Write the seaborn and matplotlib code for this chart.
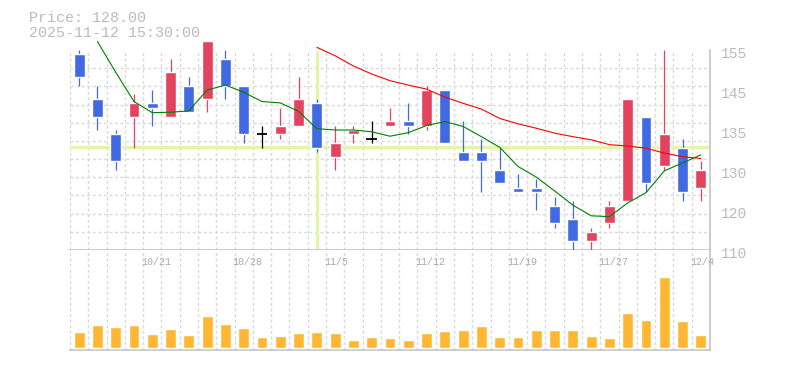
import numpy as np
import seaborn as sns
import matplotlib
matplotlib.use('Agg')
import matplotlib.pyplot as plt
import matplotlib.transforms as mtrans

# daily candles, 2025-10-15 .. 2025-12-04
dates = ['10/15', '10/16', '10/17', '10/20', '10/21', '10/22', '10/23', '10/24', '10/27', '10/28',
         '10/29', '10/30', '10/31', '11/4', '11/5', '11/6', '11/7', '11/10', '11/11', '11/12',
         '11/13', '11/14', '11/17', '11/18', '11/19', '11/20', '11/21', '11/25', '11/26', '11/27',
         '11/28', '12/1', '12/2', '12/3', '12/4']
opens = [154, 144, 136, 140, 143, 140, 147, 144, 153, 147, 136, 136, 138, 143, 131, 136, 135, 138,
         139, 138, 146, 132, 132, 128, 124, 124, 120, 117, 112, 116, 121, 140, 129, 133, 124]
highs = [155, 147, 137, 145, 146, 153, 149, 157, 155, 147, 138, 142, 149, 144, 138, 138, 139, 142,
         143, 147, 146, 139, 135, 133, 127, 126, 122, 121, 115, 121, 144, 140, 155, 135, 130]
lows = [147, 137, 128, 133, 138, 140, 141, 141, 144, 134, 133, 135, 138, 132, 128, 134, 134, 138,
        136, 137, 134, 130, 123, 125, 123, 119, 115, 110, 110, 115, 121, 123, 128, 121, 121]
closes = [149, 140, 130, 143, 142, 150, 141, 157, 147, 136, 136, 138, 144, 133, 134, 137, 135, 139,
          138, 146, 134, 130, 130, 125, 123, 123, 116, 112, 114, 120, 144, 125, 136, 123, 128]
ma_short = [np.nan, 156.9, 150.0, 143.4, 140.9, 141.0, 141.3, 146.0, 147.1, 145.5, 143.4, 143.1,
            141.2, 137.3, 137.0, 137.0, 136.6, 135.6, 136.4, 138.0, 138.9, 137.8, 135.5, 133.1,
            128.8, 126.4, 123.3, 120.1, 117.7, 117.5, 120.6, 122.9, 127.8, 129.6, 131.4]
ma_long = [np.nan] * 13 + [155.6, 153.7, 151.4, 149.6, 148.1, 147.1, 146.2, 144.4, 143.0, 141.7,
                           139.6, 138.4, 137.4, 136.3, 135.5, 134.8, 133.7, 133.4, 132.9, 131.8,
                           131.0, 130.6]
volume = [48, 68, 62, 68, 41, 56, 38, 95, 71, 59, 32, 35, 44, 47, 44, 23, 32, 29, 23, 44, 50, 53,
          65, 32, 32, 53, 53, 53, 35, 29, 104, 83, 212, 80, 38]  # thousand shares

price_tick_labels = ['110', '120', '130', '135', '145', '155']
date_label_idx = [4, 9, 14, 19, 24, 29, 34]
cursor_idx = 13
cursor_price = 133.1
header = ['Price: 128.00', '2025-11-12 15:30:00']

UP, DOWN, FLAT = '#e2435f', '#4169e1', '#000000'
GRID = '#d9d9d9'
TXT = '#bbbbbb'
DASH = (0, (2.2, 1.8))

sns.set_style('white')
plt.rcParams['font.family'] = ['Liberation Mono', 'DejaVu Sans Mono']

idx = np.arange(len(dates))
fig = plt.figure(figsize=(7.85, 3.7), dpi=100)
ax = fig.add_axes([70 / 785, 120 / 370, 640 / 785, 200 / 370])
axv = fig.add_axes([70 / 785, 20 / 370, 640 / 785, 100 / 370], sharex=ax)

# candles
for i in idx:
    o, h, l, c = opens[i], highs[i], lows[i], closes[i]
    col = UP if c > o else (DOWN if c < o else FLAT)
    ax.vlines(i, l, h, color=col, lw=0.9, zorder=3, clip_on=False)
    if c == o:
        ax.hlines(c, i - 0.3, i + 0.3, color=col, lw=1.3, zorder=4)
    else:
        ax.bar(i, abs(c - o), bottom=min(o, c), width=0.6, color=col, zorder=4, clip_on=False)

sns.lineplot(x=idx, y=ma_short, ax=ax, color='#008000', lw=0.8, zorder=5, clip_on=False)
sns.lineplot(x=idx, y=ma_long, ax=ax, color='#ff0000', lw=0.8, zorder=5, clip_on=False)

# crosshair
ax.axhline(cursor_price, color='#e4f5aa', lw=2.4, zorder=2)
ax.axvline(cursor_idx, ymax=0.99, color='#e4f5aa', lw=2.4, zorder=2)

ax.set_ylim(110, 155)
ax.set_xlim(-0.5, len(dates) - 0.5)
ax.set_yticks(np.linspace(110, 155, 6))
ax.set_yticklabels(price_tick_labels)
ax.yaxis.tick_right()
ax.tick_params(axis='y', length=0, pad=8, labelsize=10.5, labelcolor=TXT)
off = mtrans.ScaledTranslation(0, -3 / 100, fig.dpi_scale_trans)
for lab in ax.get_yticklabels():
    lab.set_transform(lab.get_transform() + off)
ax.set_yticks(np.linspace(110, 155, 12), minor=True)
ax.tick_params(axis='x', which='both', length=0, labelbottom=False)
ax.tick_params(axis='y', which='minor', length=0)

# volume
sns.barplot(x=idx, y=volume, ax=axv, color='#fdb733', saturation=1, width=0.6, zorder=3)
axv.set_xlim(-0.5, len(dates) - 0.5)
axv.set_ylim(-7, 293)
axv.set_yticks([])
axv.set_xticks([])
axv.set_xlabel('')
axv.set_ylabel('')
for j in date_label_idx:
    axv.text(j - 0.6, 0.88, dates[j], transform=axv.get_xaxis_transform(),
             ha='left', va='center', fontsize=7.2, color='#aaaaaa')

for a in (ax, axv):
    a.set_xticks(np.arange(-0.5, len(dates), 1), minor=True)
    a.tick_params(axis='x', which='minor', length=0)
    a.grid(False, which='major')
    a.grid(True, which='minor', axis='x', color=GRID, lw=1, linestyle=DASH, zorder=0)
    a.set_axisbelow(True)
    for s in ('top', 'left'):
        a.spines[s].set_visible(False)
    for s in ('bottom', 'right'):
        a.spines[s].set_color('#c4c4c4')
        a.spines[s].set_linewidth(1.2)
ax.grid(True, which='minor', axis='y', color=GRID, lw=1, linestyle=DASH, zorder=0)

fig.text(29 / 785, 1 - 18 / 370, header[0], fontsize=10.8, color=TXT, va='center')
fig.text(29 / 785, 1 - 33 / 370, header[1], fontsize=10.8, color=TXT, va='center')

fig.savefig('out.png', dpi=100)
